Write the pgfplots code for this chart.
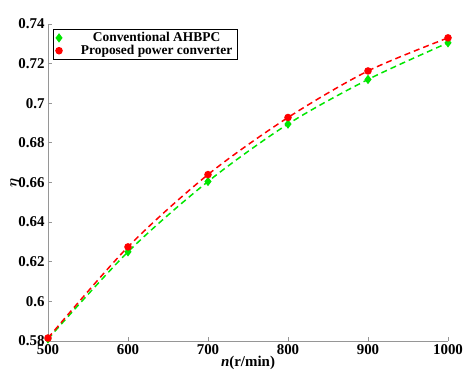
\documentclass[border=0pt]{standalone}
\usepackage{amsmath}
\usepackage{pgfplots}
\pgfplotsset{compat=1.18}
\usepackage{fontspec}
\setmainfont{Liberation Serif}
\definecolor{mygreen}{RGB}{0,230,0}
\definecolor{myred}{RGB}{255,0,0}
\definecolor{axgray}{RGB}{150,150,150}
\begin{document}
\begin{tikzpicture}
\begin{axis}[
  scale only axis,
  width=400bp, height=317bp,
  xmin=500, xmax=1000, ymin=0.58, ymax=0.74,
  xtick={500,600,...,1000},
  ytick={0.58,0.6,...,0.741},
  yticklabels={0.58,0.6,0.62,0.64,0.66,0.68,0.7,0.72,0.74},
  axis x line*=bottom, axis y line*=left,
  axis line style={axgray, line width=0.8pt},
  tick style={axgray, line width=0.8pt},
  tick align=inside,
  major tick length=4bp,
  /pgf/number format/assume math mode=true,
  /pgf/number format/1000 sep={},
  tick label style={font=\fontsize{15}{17}\selectfont\bfseries},
  xlabel={\fontsize{15}{17}\selectfont\bfseries\textit{n}(r/min)},
  ylabel={\fontsize{15}{17}\selectfont$\boldsymbol{\eta}$},
  xlabel style={yshift=5bp},
  ylabel style={yshift=-8bp},
  legend style={at={(0.012,0.985)}, anchor=north west, draw=black, line width=0.5pt,
    font=\fontsize{13.5}{15}\selectfont\bfseries, inner xsep=3pt, inner ysep=1.5pt, row sep=-2pt},
  legend cell align=center,
  legend image post style={solid},
  legend image code/.code={\draw[#1] plot coordinates {(0.1cm,0cm)}; \path[draw=none] (0,0) -- (0.8cm,0);},
]
\addplot[mygreen, dash pattern=on 6bp off 4bp, line width=1.5pt, smooth, tension=0.5, mark=diamond*, mark size=3.5pt, mark options={solid, fill=mygreen}]
  coordinates {(500,0.581) (600,0.625) (700,0.6605) (800,0.6895) (900,0.712) (1000,0.7305)};
\addlegendentry{Conventional AHBPC}
\addplot[myred, dash pattern=on 6bp off 4bp, line width=1.5pt, smooth, tension=0.5, mark=*, mark size=3pt, mark options={solid, fill=myred}]
  coordinates {(500,0.5815) (600,0.6275) (700,0.664) (800,0.6928) (900,0.7163) (1000,0.733)};
\addlegendentry{Proposed power converter}
\end{axis}
\pgfresetboundingbox
\path (-48bp,-47bp) rectangle (423bp,341bp);
\end{tikzpicture}
\end{document}
